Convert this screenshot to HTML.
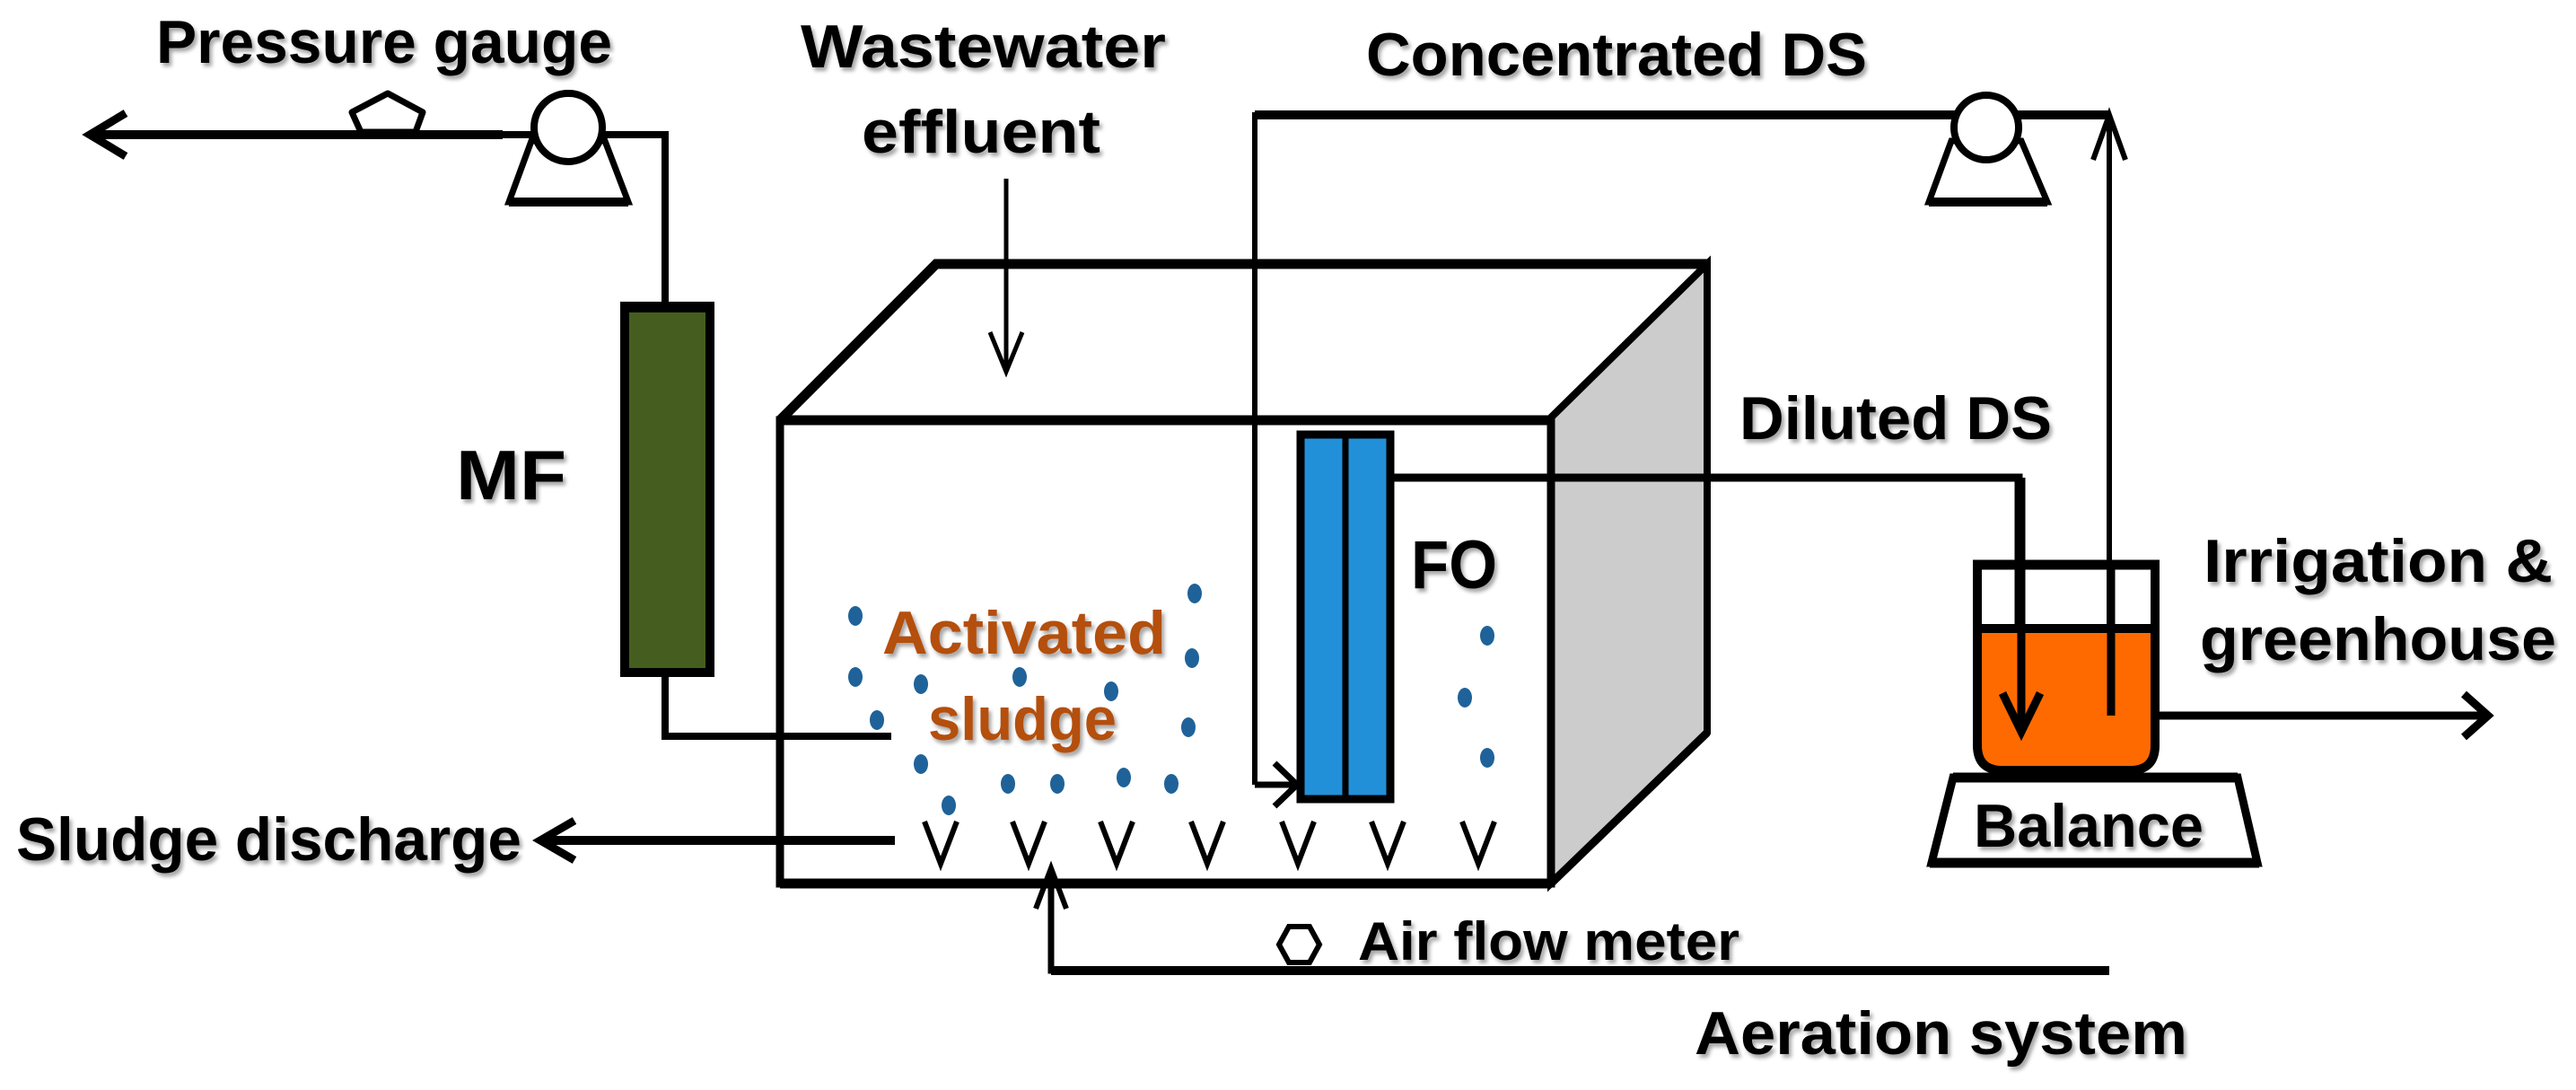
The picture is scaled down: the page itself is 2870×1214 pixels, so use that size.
<!DOCTYPE html>
<html><head><meta charset="utf-8"><style>html,body{margin:0;padding:0;background:#fff}svg{display:block}
text{font-family:"Liberation Sans",sans-serif;font-weight:bold}</style></head><body>
<svg width="2870" height="1214" viewBox="0 0 2870 1214" xmlns="http://www.w3.org/2000/svg">
<defs><filter id="sh" x="-5%" y="-5%" width="110%" height="130%"><feDropShadow dx="3" dy="4" stdDeviation="2" flood-color="#000" flood-opacity="0.35"/></filter></defs>
<g fill="none" stroke="#000" stroke-linejoin="miter">
<!-- tank -->
<polygon points="1728,465 1902,294 1902,816 1728,984" fill="#cccccc" stroke-width="8"/>
<polyline points="869,468 1043,294 1902,294" stroke-width="11"/>
<line x1="1728" y1="465" x2="1902" y2="294" stroke-width="8"/>
<rect x="869" y="468" width="859" height="516" fill="#fff" stroke-width="9"/>
<line x1="869" y1="468" x2="1728" y2="468" stroke-width="11"/>
<line x1="869" y1="984" x2="1728" y2="984" stroke-width="11"/>
<line x1="1728" y1="984" x2="1902" y2="816" stroke-width="9"/>
<!-- pressure line -->
<polyline points="100,150 741,150 741,339" stroke-width="8"/>
<line x1="100" y1="150" x2="560" y2="150" stroke-width="10"/>
<polyline points="140,126 100,150 140,174" stroke-width="9"/>
<polygon points="432,104 471,125 463,147 402,147 392,125" fill="#fff" stroke-width="7" stroke-linejoin="round"/>
<!-- pump1 -->
<polygon points="592,157 674,157 700,225 567,225" fill="#fff" stroke-width="7"/>
<line x1="567" y1="225" x2="700" y2="225" stroke-width="10"/>
<circle cx="633" cy="142" r="38" fill="#fff" stroke-width="8"/>
<!-- MF -->
<rect x="696" y="342" width="95" height="407" fill="#455e1f" stroke-width="10"/>
<line x1="691" y1="342" x2="796" y2="342" stroke-width="12"/>
<polyline points="741,752 741,820 993,820" stroke-width="8"/>
<!-- wastewater arrow -->
<line x1="1121" y1="199" x2="1121" y2="412" stroke-width="5"/>
<polyline points="1103,370 1121,414 1139,370" stroke-width="5"/>
<!-- concentrated DS -->
<polyline points="1398,874 1398,128 2350,128" stroke-width="6"/>
<line x1="1398" y1="128" x2="2350" y2="128" stroke-width="10"/>
<line x1="1398" y1="874" x2="1445" y2="874" stroke-width="7"/>
<polyline points="1420,850 1445,874 1420,898" stroke-width="7"/>
<polygon points="2174,157 2252,157 2281,225 2149,225" fill="#fff" stroke-width="7"/>
<line x1="2149" y1="225" x2="2281" y2="225" stroke-width="10"/>
<circle cx="2213" cy="142" r="36" fill="#fff" stroke-width="8"/>
<line x1="2350" y1="128" x2="2350" y2="797" stroke-width="6"/>
<polyline points="2332,178 2350,128 2368,178" stroke-width="6"/>
<!-- FO -->
<rect x="1449" y="484" width="100" height="406" fill="#2290d8" stroke-width="9"/>
<line x1="1499" y1="484" x2="1499" y2="890" stroke-width="7"/>
<polyline points="1549,532 2249,532 2249,814" stroke-width="9"/>
<!-- beaker -->
<path d="M2203,700 L2203,830 Q2203,858 2231,858 L2373,858 Q2401,858 2401,830 L2401,700 Z" fill="#ff6a00" stroke="none"/>
<path d="M2203,629 L2203,830 Q2203,858 2231,858 L2373,858 Q2401,858 2401,830 L2401,629 Z" stroke-width="10"/>
<line x1="2198" y1="629" x2="2406" y2="629" stroke-width="11"/>
<line x1="2203" y1="700" x2="2401" y2="700" stroke-width="10"/>
<line x1="2252" y1="532" x2="2252" y2="812" stroke-width="9"/>
<line x1="2352" y1="629" x2="2352" y2="797" stroke-width="9"/>
<polyline points="2231,772 2252,815 2273,772" stroke-width="9"/>
<line x1="2405" y1="797" x2="2770" y2="797" stroke-width="9"/>
<polyline points="2745,773 2772,797 2745,821" stroke-width="9"/>
<!-- balance -->
<polygon points="2176,866 2493,866 2515,961 2152,961" fill="#fff" stroke-width="9"/>
<line x1="2176" y1="866" x2="2493" y2="866" stroke-width="11"/>
<line x1="2150" y1="961" x2="2517" y2="961" stroke-width="11"/>
<!-- sludge discharge -->
<line x1="605" y1="936" x2="997" y2="936" stroke-width="10"/>
<polyline points="640,914 602,936 640,958" stroke-width="9"/>
<!-- aeration -->
<polyline points="1171,972 1171,1081 2350,1081" stroke-width="7"/>
<line x1="1171" y1="1081" x2="2350" y2="1081" stroke-width="10"/>
<polyline points="1154,1012 1171,967 1188,1012" stroke-width="6"/>
<polygon points="1436,1032 1459,1032 1470,1052 1459,1072 1436,1072 1425,1052" fill="#fff" stroke-width="6"/>
<!-- V's -->
<g stroke-width="6">
<polyline points="1030,915 1048,962 1066,915"/><polyline points="1128,915 1146,962 1164,915"/>
<polyline points="1226,915 1244,962 1262,915"/><polyline points="1327,915 1345,962 1363,915"/>
<polyline points="1428,915 1446,962 1464,915"/><polyline points="1528,915 1546,962 1564,915"/>
<polyline points="1629,915 1647,962 1665,915"/>
</g>
</g>
<!-- dots -->
<g fill="#1f6299">
<ellipse cx="953" cy="686" rx="8" ry="11"/><ellipse cx="1331" cy="661" rx="8" ry="11"/>
<ellipse cx="953" cy="754" rx="8" ry="11"/><ellipse cx="1026" cy="762" rx="8" ry="11"/>
<ellipse cx="1136" cy="754" rx="8" ry="11"/><ellipse cx="1238" cy="770" rx="8" ry="11"/>
<ellipse cx="1328" cy="733" rx="8" ry="11"/><ellipse cx="977" cy="802" rx="8" ry="11"/>
<ellipse cx="1324" cy="810" rx="8" ry="11"/><ellipse cx="1026" cy="851" rx="8" ry="11"/>
<ellipse cx="1123" cy="873" rx="8" ry="11"/><ellipse cx="1178" cy="873" rx="8" ry="11"/>
<ellipse cx="1252" cy="866" rx="8" ry="11"/><ellipse cx="1305" cy="873" rx="8" ry="11"/>
<ellipse cx="1057" cy="897" rx="8" ry="11"/>
<ellipse cx="1657" cy="708" rx="8" ry="11"/><ellipse cx="1632" cy="777" rx="8" ry="11"/><ellipse cx="1657" cy="844" rx="8" ry="11"/>
</g>
<!-- text -->
<g filter="url(#sh)" font-size="68" fill="#000">
<text x="174" y="70" textLength="508" lengthAdjust="spacingAndGlyphs">Pressure gauge</text>
<text x="892" y="75" textLength="407" lengthAdjust="spacingAndGlyphs">Wastewater</text>
<text x="960" y="170" textLength="266" lengthAdjust="spacingAndGlyphs">effluent</text>
<text x="1522" y="84" textLength="558" lengthAdjust="spacingAndGlyphs">Concentrated DS</text>
<text x="1938" y="489" textLength="348" lengthAdjust="spacingAndGlyphs">Diluted DS</text>
<text x="508" y="556" font-size="78" textLength="123" lengthAdjust="spacingAndGlyphs">MF</text>
<text x="1572" y="655" font-size="76" textLength="96" lengthAdjust="spacingAndGlyphs">FO</text>
<text x="2455" y="648" textLength="389" lengthAdjust="spacingAndGlyphs">Irrigation &amp;</text>
<text x="2451" y="735" textLength="397" lengthAdjust="spacingAndGlyphs">greenhouse</text>
<text x="2199" y="943" textLength="256" lengthAdjust="spacingAndGlyphs">Balance</text>
<text x="18" y="958" textLength="563" lengthAdjust="spacingAndGlyphs">Sludge discharge</text>
<text x="1513" y="1069" font-size="60" textLength="425" lengthAdjust="spacingAndGlyphs">Air flow meter</text>
<text x="1888" y="1174" textLength="549" lengthAdjust="spacingAndGlyphs">Aeration system</text>
<g fill="#b4500e">
<text x="983" y="728" textLength="316" lengthAdjust="spacingAndGlyphs">Activated</text>
<text x="1034" y="824" textLength="210" lengthAdjust="spacingAndGlyphs">sludge</text>
</g>
</g>
</svg>
</body></html>
